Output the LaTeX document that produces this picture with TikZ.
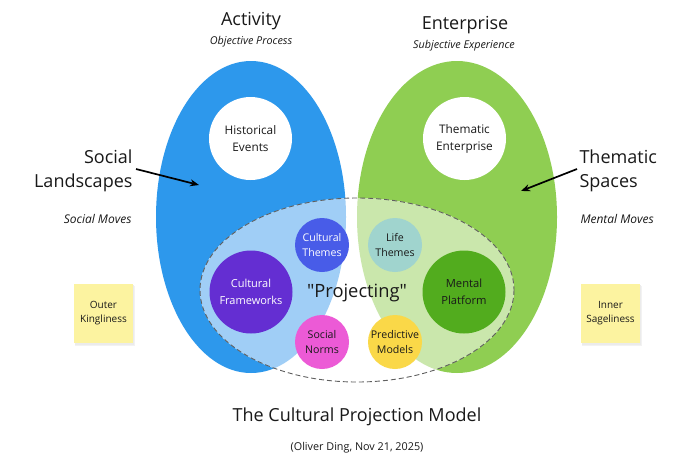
\documentclass[tikz,border=0pt]{standalone}
\usepackage{fontspec}
\setmainfont{Open Sans}
\newfontfamily\qfont{Open Sans}[Ligatures=TeXOff]
\usetikzlibrary{arrows.meta}
\definecolor{bigblue}{RGB}{45,152,236}
\definecolor{biggreen}{RGB}{143,206,82}
\definecolor{ltblue}{RGB}{160,206,246}
\definecolor{ltgreen}{RGB}{202,231,172}
\definecolor{cthemes}{RGB}{72,92,232}
\definecolor{lthemes}{RGB}{160,212,206}
\definecolor{cframe}{RGB}{100,46,210}
\definecolor{mplat}{RGB}{82,172,30}
\definecolor{snorms}{RGB}{236,90,214}
\definecolor{pmodels}{RGB}{250,216,72}
\definecolor{sticky}{RGB}{252,243,160}
\definecolor{txt}{RGB}{25,25,25}
\tikzset{
  bubble/.style={circle, draw=none, minimum size=#1, inner sep=0pt, align=center, font=\fontsize{10.6}{15}\selectfont},
  bigbubble/.style={circle, draw=none, minimum size=83pt, inner sep=0pt, align=center, font=\fontsize{11.8}{17}\selectfont},
  note/.style={draw=none, fill=sticky, minimum width=59pt, minimum height=59pt, align=center, font=\fontsize{10}{14}\selectfont, text=txt},
  head/.style={font=\fontsize{18}{22}\selectfont, text=txt},
  sub/.style={font=\fontsize{10.8}{12}\selectfont\itshape, text=txt},
  moves/.style={font=\fontsize{12}{14}\selectfont\itshape, text=txt},
  side/.style={font=\fontsize{18}{24}\selectfont, text=txt},
  ptr/.style={-{Stealth[length=9pt,width=7pt]}, line width=1.7pt, black}
}
\begin{document}
\begin{tikzpicture}[x=1pt,y=-1pt]
\useasboundingbox (0,0) rectangle (700,469);
\fill[white] (0,0) rectangle (700,469);
% big ellipses
\fill[bigblue] (251,217) ellipse [x radius=95, y radius=156];
\fill[biggreen] (457,217) ellipse [x radius=100, y radius=156];
\begin{scope}
  \clip (357,290) ellipse [x radius=157, y radius=92];
  \fill[white] (357,290) ellipse [x radius=157, y radius=92];
  \fill[ltblue] (251,217) ellipse [x radius=95, y radius=156];
  \fill[ltgreen] (457,217) ellipse [x radius=100, y radius=156];
\end{scope}
\draw[gray!75!black, dash pattern=on 5pt off 3pt, line width=0.9pt] (357,290) ellipse [x radius=157, y radius=92];
% white circles
\node[bigbubble, fill=white, text=txt] (hist) at (250.5,138.5) {Historical\\Events};
\node[bigbubble, fill=white, text=txt] (them) at (464.5,138.5) {Thematic\\Enterprise};
% inner bubbles
\node[bubble=54pt, fill=cthemes, text=white] (ct) at (322,245) {Cultural\\Themes};
\node[bubble=54pt, fill=lthemes, text=txt] (lt) at (395,245) {Life\\Themes};
\node[bigbubble, fill=cframe, text=white, font=\fontsize{11}{17}\selectfont] (cf) at (251,292) {Cultural\\Frameworks};
\node[bigbubble, fill=mplat, text=txt, font=\fontsize{11.2}{17}\selectfont] (mp) at (464,292) {Mental\\Platform};
\node[bubble=54pt, fill=snorms, text=txt] (sn) at (322,342) {Social\\Norms};
\node[bubble=54pt, fill=pmodels, text=txt] (pm) at (395,342) {Predictive\\Models};
\node[font=\fontsize{18.3}{20}\selectfont\qfont, text=txt] (proj) at (357,293) {"Projecting"};
% headings
\node[head] (act) at (251,21) {Activity};
\node[sub] (obj) at (251,42) {Objective Process};
\node[head] (ent) at (465,25) {Enterprise};
\node[sub] (subj) at (464,46) {Subjective Experience};
% side labels
\node[side, anchor=east, align=right] (sl) at (136,171) {Social\\Landscapes};
\node[side, anchor=west, align=left] (ts) at (576,171) {Thematic\\Spaces};
\node[moves, anchor=east] (sm) at (135,219) {Social Moves};
\node[moves, anchor=west] (mm) at (577,219) {Mental Moves};
\coordinate (sla) at (136,169);
\coordinate (bt) at (199,185);
\coordinate (tsa) at (577,169);
\coordinate (gt) at (521,191);
\draw[ptr] (sla) -- (bt);
\draw[ptr] (tsa) -- (gt);
% sticky notes with soft shadow
\fill[black!5] (75,286) rectangle (135,346);
\fill[black!8] (75,285) rectangle (134,345);
\node[note] (ok) at (103.5,313.5) {Outer\\Kingliness};
\fill[black!5] (582,286) rectangle (642,346);
\fill[black!8] (582,285) rectangle (641,345);
\node[note] (is) at (610.5,313.5) {Inner\\Sageliness};
% title
\node[font=\fontsize{18}{22}\selectfont, text=txt] (title) at (357,417) {The Cultural Projection Model};
\node[font=\fontsize{10.8}{12}\selectfont, text=txt] (auth) at (357,448) {(Oliver Ding, Nov 21, 2025)};
\end{tikzpicture}
\end{document}
